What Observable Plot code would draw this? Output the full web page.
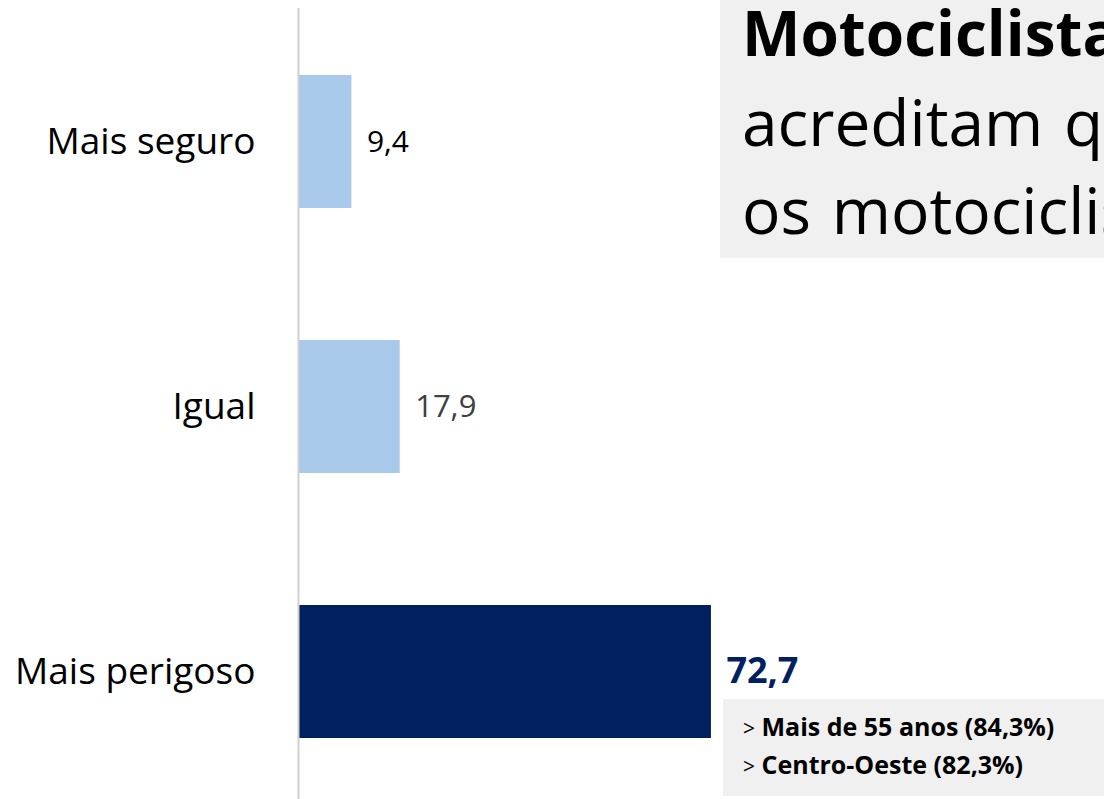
<!DOCTYPE html>
<html>
<head>
<meta charset="utf-8">
<script src="https://cdn.jsdelivr.net/npm/d3@7"></script>
<script src="https://cdn.jsdelivr.net/npm/@observablehq/plot@0.6"></script>
<style>
  html, body { margin: 0; padding: 0; background: #fff; overflow: hidden; width: 1104px; height: 799px; }
  body { position: relative; font-family: "Open Sans", sans-serif; }
  #chart { position: absolute; left: 0; top: 0; }
  .title-box { position: absolute; left: 720px; top: 0; width: 384px; height: 258px; background: #f0f0f0; overflow: hidden; white-space: nowrap; }
  .title-box div { position: absolute; left: 22px; font-size: 64px; color: #000; line-height: 1; word-spacing: 4px; }
  .note-box { position: absolute; left: 723px; top: 699px; width: 381px; height: 97px; background: #f0f0f0; white-space: nowrap; overflow: hidden; }
  .note-box div { position: absolute; left: 20px; font-size: 25px; color: #000; line-height: 1; }
  .note-box b { font-weight: 700; }
</style>
</head>
<body>
<div id="chart"></div>
<div class="title-box">
  <div id="t1" style="top:1px;font-weight:700;font-size:62px">Motociclistas</div>
  <div id="t2" style="top:90px">acreditam que</div>
  <div id="t3" style="top:178px">os motociclistas</div>
</div>
<div class="note-box">
  <div style="top:15px"><span style="font-size:21px">&gt;</span> <b>Mais de 55 anos (84,3%)</b></div>
  <div style="top:53px"><span style="font-size:21px">&gt;</span> <b>Centro-Oeste (82,3%)</b></div>
</div>
<script>
const categories = ["Mais seguro", "Igual", "Mais perigoso"];
const values = [9.4, 17.9, 72.7];
const barColors = ["#a9c9eb", "#a9c9eb", "#002060"];
const labelColors = ["#000000", "#404040", "#002060"];
const labelWeights = ["normal", "normal", "bold"];
const labelSizes = [30, 31, 36];

const data = categories.map((c, i) => ({
  category: c, value: values[i], bar: barColors[i], lc: labelColors[i], lw: labelWeights[i], ls: labelSizes[i]
}));
const fmt = v => v.toFixed(1).replace(".", ",");

const chart = Plot.plot({
  width: 1104,
  height: 799,
  marginLeft: 298,
  marginTop: 8,
  marginBottom: 0,
  marginRight: 0,
  style: { fontFamily: "Open Sans, sans-serif", background: "transparent" },
  x: { domain: [0, 100], range: [298, 866], axis: null },
  y: { domain: categories, range: [7.6, 804.1], paddingInner: 0.5, paddingOuter: 0.25, label: null },
  marks: [
    Plot.barX(data, { y: "category", x: "value", fill: d => d.bar }),
    Plot.ruleX([0], { stroke: "#d0d0d0", strokeWidth: 2 }),
    Plot.axisY({ tickSize: 0, tickPadding: 43, fontSize: 37, label: null, color: "#000" }),
    ...data.map(d => Plot.text([d], {
      y: "category", x: "value", text: e => fmt(e.value),
      textAnchor: "start", dx: 15, dy: d.category === "Mais perigoso" ? -1 : 0,
      fill: d.lc, fontWeight: d.lw, fontSize: d.ls
    }))
  ]
});
document.getElementById("chart").appendChild(chart);
</script>
</body>
</html>
